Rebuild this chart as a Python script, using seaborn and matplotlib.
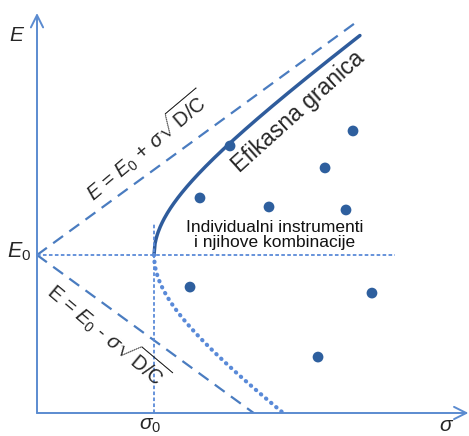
import numpy as np
import pandas as pd
import matplotlib
matplotlib.use("Agg")
import matplotlib.pyplot as plt
import seaborn as sns

# ---- chart values ----
E0 = 1.0                 # minimum-variance expected return
sigma0 = 1.0             # minimum-variance risk
slope = 0.54             # sqrt(D/C)
sigma_end = 2.76         # where frontier / asymptote are cut
E_hline_end = 3.06
sigma_vline_top = 1.20

pts_sigma = [1.65, 1.393, 2.701, 2.462, 1.983, 2.641, 1.308, 2.863, 2.402]
pts_E     = [1.69, 1.361, 1.785, 1.551, 1.304, 1.285, 0.797, 0.759, 0.354]

label_E = "E"
label_E0 = r"$E_0$"
label_s0 = r"$\sigma_0$"
label_s = r"$\sigma$"
label_up = r"$E$ = $E_0$ + $\sigma\sqrt{\mathrm{D/C}}$"
label_dn = r"E = $E_0$ - $\sigma\sqrt{\mathrm{D/C}}$"
label_front = "Efikasna granica"
label_pts = "Individualni instrumenti\ni njihove kombinacije"

sns.set_theme(style="white")
plt.rcParams["font.family"] = ["Liberation Sans", "DejaVu Sans"]
plt.rcParams["mathtext.fontset"] = "custom"
plt.rcParams["mathtext.rm"] = "Liberation Sans"
plt.rcParams["mathtext.it"] = "Liberation Sans:italic"
plt.rcParams["mathtext.sf"] = "Liberation Sans"

W, H = 469, 436
fig = plt.figure(figsize=(W / 100, H / 100), dpi=100)
ax = fig.add_axes([37 / W, (H - 413) / H, (469 - 37) / W, (413 - 10) / H])
xmax = (469 - 37) / 117
ymax = (413 - 10) / 158
ax.set_xlim(0, xmax)
ax.set_ylim(0, ymax)
for s in ax.spines.values():
    s.set_visible(False)
ax.set_xticks([])
ax.set_yticks([])

c_axis = "#5b8bd0"
c_dash = "#4a7cc0"
c_front = "#2f5c9c"
c_dot = "#5a8ad8"
c_pt = "#2e5f9e"

# frontier (upper branch, solid) and lower branch (dotted)
s_up = np.linspace(sigma0, sigma_end, 200)
front = pd.DataFrame({"sigma": s_up, "E": E0 + slope * np.sqrt(s_up**2 - sigma0**2)})
s_low_end = np.sqrt((E0 / slope) ** 2 + sigma0**2)
s_lo = np.linspace(sigma0, s_low_end, 200)
lower = pd.DataFrame({"sigma": s_lo, "E": E0 - slope * np.sqrt(s_lo**2 - sigma0**2)})

# asymptotes
asym_up = pd.DataFrame({"sigma": [0, sigma_end], "E": [E0, E0 + slope * sigma_end]})
asym_dn = pd.DataFrame({"sigma": [0, E0 / slope], "E": [E0, 0]})

sns.lineplot(data=asym_up, x="sigma", y="E", ax=ax, color=c_dash, lw=1.6,
             sort=False, linestyle=(0, (5.5, 3.5)))
sns.lineplot(data=asym_dn, x="sigma", y="E", ax=ax, color=c_dash, lw=1.6,
             sort=False, linestyle=(0, (5.5, 3.5)))
sns.lineplot(data=front, x="sigma", y="E", ax=ax, color=c_front, lw=2.5, sort=False)
l = sns.lineplot(data=lower, x="sigma", y="E", ax=ax, color=c_dot, lw=3.0, sort=False,
                 linestyle=(0, (0.1, 1.5)))
l.lines[-1].set_dash_capstyle("round")

# reference lines
ax.plot([0, E_hline_end], [E0, E0], color=c_dot, lw=1.3, linestyle=(0, (2, 1.3)))
ax.plot([sigma0, sigma0], [0, sigma_vline_top], color=c_dot, lw=1.3, linestyle=(0, (2, 1.3)))

# points
pts = pd.DataFrame({"sigma": pts_sigma, "E": pts_E})
sns.scatterplot(data=pts, x="sigma", y="E", ax=ax, color=c_pt, s=60, edgecolor="none", zorder=5)

# axes with arrows
ax.annotate("", xy=(xmax - 0.005, 0), xytext=(0, 0), xycoords="data",
            arrowprops=dict(arrowstyle="->", color=c_axis, lw=1.4, mutation_scale=22,
                            shrinkA=0, shrinkB=0), annotation_clip=False)
ax.annotate("", xy=(0, (413 - 13) / 158), xytext=(0, 0), xycoords="data",
            arrowprops=dict(arrowstyle="->", color=c_axis, lw=1.4, mutation_scale=22,
                            shrinkA=0, shrinkB=0), annotation_clip=False)
ax.set_xlabel("")
ax.set_ylabel("")

# texts
ax.text(-0.18, 2.39, label_E, fontsize=15, style="italic", ha="center", va="center", clip_on=False)
ax.text(-0.15, 1.02, label_E0, fontsize=15.5, ha="center", va="center", clip_on=False)
ax.text(0.966, -0.078, label_s0, fontsize=15, ha="center", va="center", clip_on=False)
ax.text(3.50, -0.078, label_s, fontsize=15, ha="center", va="center", clip_on=False)
ax.text(0.93, 1.69, label_up, fontsize=14.5, rotation=40, ha="center", va="center",
        rotation_mode="anchor")
ax.text(0.61, 0.50, label_dn, fontsize=14.5, rotation=-40, ha="center", va="center",
        rotation_mode="anchor")
ax.text(2.235, 1.905, label_front, fontsize=16.5, rotation=42, ha="center", va="center",
        rotation_mode="anchor")
ax.text(2.034, 1.127, label_pts, fontsize=12.5, ha="center", va="center", linespacing=1.05,
        color="#111111")

fig.savefig("out.png", dpi=100)
